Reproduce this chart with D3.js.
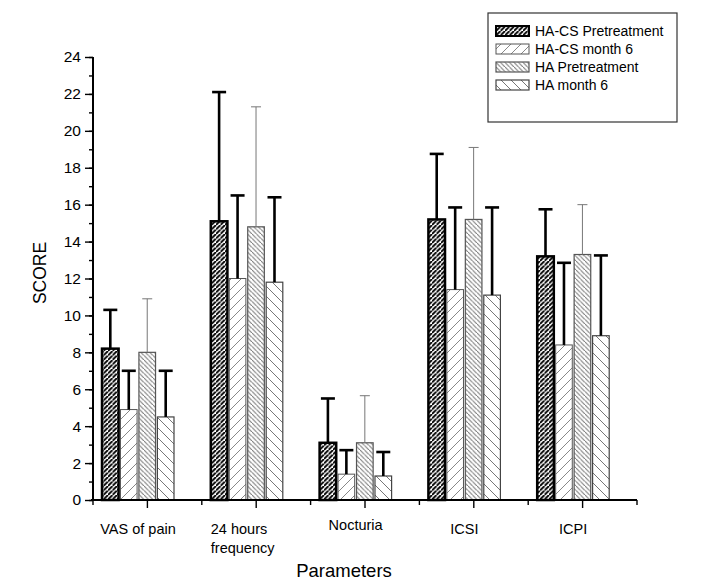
<!DOCTYPE html>
<html>
<head>
<meta charset="utf-8">
<script src="https://cdn.jsdelivr.net/npm/d3@7"></script>
<style>
  body { margin: 0; background: #fff; }
  svg { font-family: "Liberation Sans", Arial, sans-serif; }
</style>
</head>
<body>
<div class="main"></div>
<script>
const WIDTH = 707;
const HEIGHT = 582;

// data
const categories = ["VAS of pain", "24 hours frequency", "Nocturia", "ICSI", "ICPI"];
const series = ["HA-CS Pretreatment", "HA-CS month 6", "HA Pretreatment", "HA month 6"];
const means = [
    [8.2, 4.9, 8.0, 4.5],
    [15.1, 12.0, 14.8, 11.8],
    [3.1, 1.4, 3.1, 1.3],
    [15.2, 11.4, 15.2, 11.1],
    [13.2, 8.4, 13.3, 8.9]
];
const upper = [
    [10.3, 7.0, 10.9, 7.0],
    [22.1, 16.5, 21.3, 16.4],
    [5.5, 2.7, 5.65, 2.6],
    [18.75, 15.85, 19.1, 15.85],
    [15.75, 12.85, 16.0, 13.25]
];
const yTicks = d3.range(0, 25, 2);

// look of each series
const looks = [
    { pat: "p0", stroke: "#000", sw: 2.5, errW: 2.6, errC: "#000", cap: 14 },
    { pat: "p1", stroke: "#555", sw: 1, errW: 2.6, errC: "#000", cap: 14 },
    { pat: "p2", stroke: "#555", sw: 1.2, errW: 1, errC: "#777", cap: 10 },
    { pat: "p3", stroke: "#444", sw: 1.2, errW: 2.6, errC: "#000", cap: 14 }
];

var svg = d3.select(".main")
    .append("svg")
        .attr("width", WIDTH)
        .attr("height", HEIGHT);

var defs = svg.append("defs");
function hatch(id, size, dir, color, width) {
    var p = defs.append("pattern")
        .attr("id", id)
        .attr("patternUnits", "userSpaceOnUse")
        .attr("width", size)
        .attr("height", size);
    p.append("rect").attr("width", size).attr("height", size).attr("fill", "#fff");
    var d = dir > 0
        ? `M0,${size} L${size},0 M${-size},${size} L0,0 M${size},${2 * size} L${2 * size},${size}`
        : `M0,0 L${size},${size} M${-size},0 L0,${size} M${size},${-size} L${2 * size},0`;
    p.append("path").attr("d", d).attr("stroke", color).attr("stroke-width", width);
}
hatch("p0", 4.5, 1, "#000", 1.9);
hatch("p1", 10, 1, "#888", 1);
hatch("p2", 4.5, -1, "#777", 1.1);
hatch("p3", 10, -1, "#777", 1);

var x = d3.scaleBand().domain(categories).range([93, 637]);
var xs = d3.scaleBand().domain(series).range([9, 81]).paddingInner(0.1);
var y = d3.scaleLinear().domain([0, 24]).range([500, 57]);

var rows = [];
categories.forEach((c, i) => series.forEach((s, j) => {
    rows.push({ c: c, s: s, j: j, v: means[i][j], hi: upper[i][j] });
}));

var bars = svg.append("g");
bars.selectAll("rect")
    .data(rows)
    .join("rect")
    .attr("x", d => x(d.c) + xs(d.s))
    .attr("y", d => y(d.v))
    .attr("width", xs.bandwidth())
    .attr("height", d => y(0) - y(d.v))
    .attr("fill", d => `url(#${looks[d.j].pat})`)
    .attr("stroke", d => looks[d.j].stroke)
    .attr("stroke-width", d => looks[d.j].sw);

var err = svg.append("g");
var eb = err.selectAll("g")
    .data(rows)
    .join("g")
    .attr("stroke", d => looks[d.j].errC)
    .attr("stroke-width", d => looks[d.j].errW);
eb.append("line")
    .attr("x1", d => x(d.c) + xs(d.s) + xs.bandwidth() / 2)
    .attr("x2", d => x(d.c) + xs(d.s) + xs.bandwidth() / 2)
    .attr("y1", d => y(d.v))
    .attr("y2", d => y(d.hi));
eb.append("line")
    .attr("x1", d => x(d.c) + xs(d.s) + xs.bandwidth() / 2 - looks[d.j].cap / 2)
    .attr("x2", d => x(d.c) + xs(d.s) + xs.bandwidth() / 2 + looks[d.j].cap / 2)
    .attr("y1", d => y(d.hi))
    .attr("y2", d => y(d.hi));

// y axis
var yAxis = svg.append("g").attr("transform", "translate(93,0)");
yAxis.call(d3.axisLeft(y).tickValues(d3.range(0, 25, 1)).tickSize(4).tickFormat(""));
yAxis.call(g => g.selectAll(".tick line").attr("stroke-width", 1.4));
var yMajor = svg.append("g").attr("transform", "translate(93,0)");
yMajor.call(d3.axisLeft(y).tickValues(yTicks).tickSize(8).tickPadding(4));
yMajor.select(".domain").attr("stroke-width", 2).attr("d", `M0,${y(0)}V${y(24)}`);
yMajor.selectAll(".tick line").attr("stroke-width", 1.4);
yMajor.selectAll(".tick text").attr("font-size", 15.5).attr("fill", "#000")
    .attr("font-family", "Liberation Sans, Arial, sans-serif");

// x axis
var xAxis = svg.append("g").attr("transform", `translate(0,${y(0)})`);
xAxis.append("line")
    .attr("x1", 91).attr("x2", 637)
    .attr("stroke", "#000").attr("stroke-width", 2);
xAxis.selectAll(".minor")
    .data(categories.map(c => x(c)).concat([x.range()[1]]))
    .join("line")
    .attr("x1", d => d).attr("x2", d => d)
    .attr("y1", 0).attr("y2", 5)
    .attr("stroke", "#000").attr("stroke-width", 1.4);
xAxis.selectAll(".major")
    .data(categories)
    .join("line")
    .attr("x1", d => x(d) + x.bandwidth() / 2)
    .attr("x2", d => x(d) + x.bandwidth() / 2)
    .attr("y1", 0).attr("y2", 8)
    .attr("stroke", "#000").attr("stroke-width", 1.4);

var labels = svg.append("g").attr("font-size", 14.5).attr("fill", "#000");
categories.forEach((c, i) => {
    var cx = x(c) + xs.range()[0] + (xs.range()[1] - xs.range()[0]) / 2;
    if (c === "24 hours frequency") {
        var t = labels.append("text").attr("x", x(c) + 9).attr("y", 534);
        t.append("tspan").attr("x", x(c) + 9).text("24 hours");
        t.append("tspan").attr("x", x(c) + 9).attr("dy", 19).text("frequency");
    } else {
        labels.append("text")
            .attr("x", cx)
            .attr("y", c === "Nocturia" ? 530 : 534)
            .attr("text-anchor", "middle")
            .text(c);
    }
});

svg.append("text")
    .attr("x", 344).attr("y", 577)
    .attr("text-anchor", "middle")
    .attr("font-size", 18.5)
    .text("Parameters");

svg.append("text")
    .attr("transform", "translate(46,273) rotate(-90)")
    .attr("text-anchor", "middle")
    .attr("font-size", 17.5)
    .text("SCORE");

// legend
var legend = svg.append("g");
legend.append("rect")
    .attr("x", 488).attr("y", 13)
    .attr("width", 189).attr("height", 109)
    .attr("fill", "#fff").attr("stroke", "#333").attr("stroke-width", 1.2);
var item = legend.selectAll(".item")
    .data(series)
    .join("g")
    .attr("transform", (d, i) => `translate(496,${31 + i * 18})`);
item.append("rect")
    .attr("x", 0).attr("y", -5)
    .attr("width", 33).attr("height", 10)
    .attr("fill", (d, i) => `url(#${looks[i].pat})`)
    .attr("stroke", (d, i) => looks[i].stroke)
    .attr("stroke-width", (d, i) => Math.min(looks[i].sw, 2));
item.append("text")
    .attr("x", 39).attr("y", 5)
    .attr("font-size", 14)
    .text(d => d);
</script>
</body>
</html>
